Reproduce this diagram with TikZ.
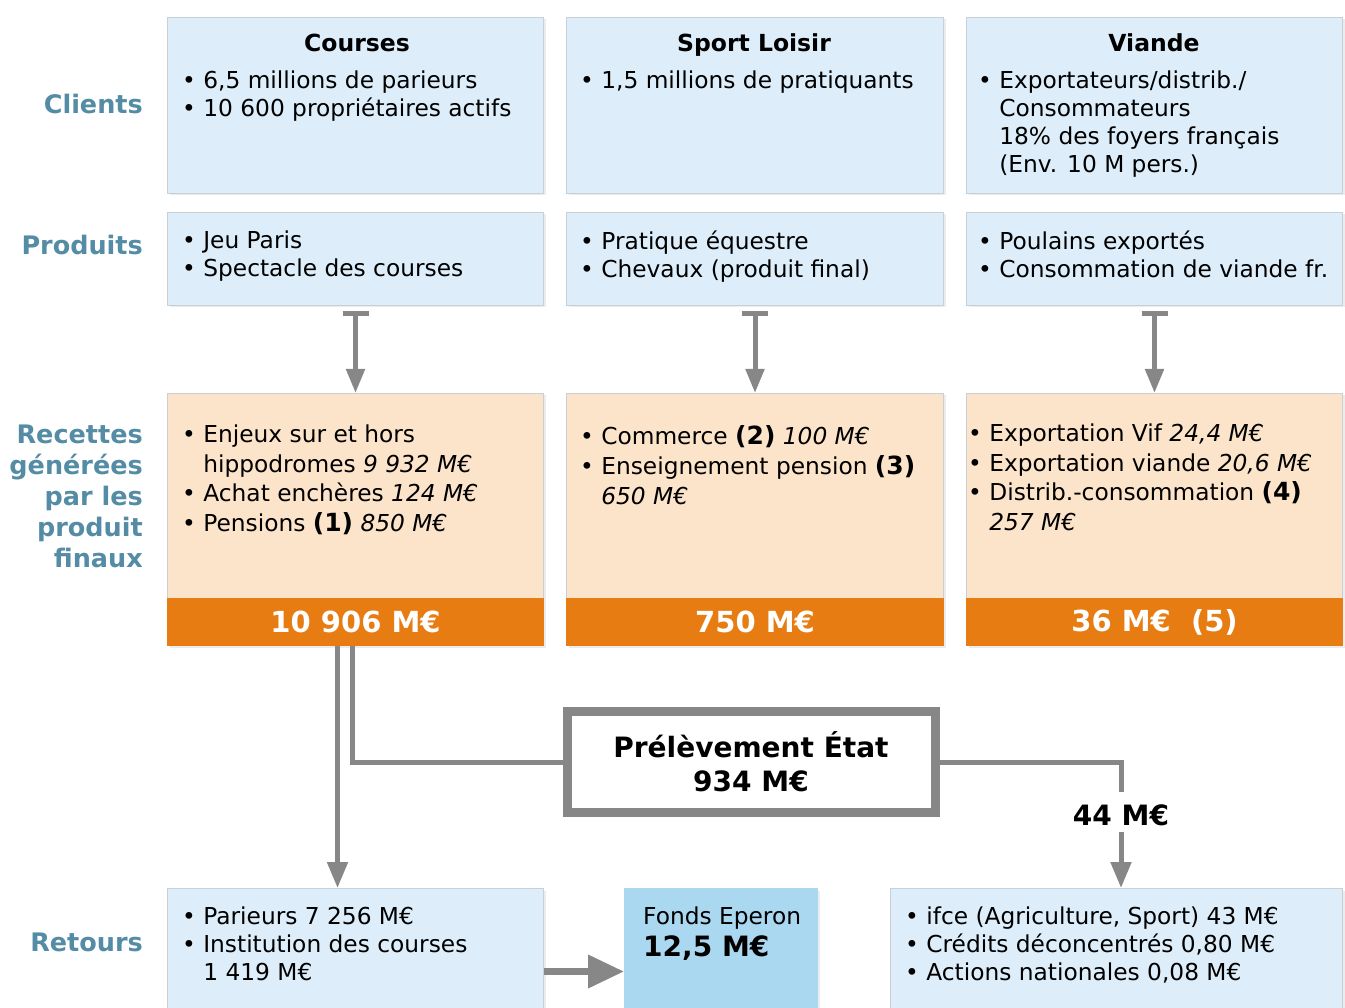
\documentclass[tikz,border=0pt]{standalone}
\usepackage{fontspec}
\setmainfont{DejaVu Sans}
\usetikzlibrary{arrows.meta, positioning, shadows}
\definecolor{boxblue}{RGB}{221,238,250}
\definecolor{fondsblue}{RGB}{170,216,240}
\definecolor{peach}{RGB}{252,228,203}
\definecolor{barorange}{RGB}{231,125,18}
\definecolor{labelblue}{RGB}{84,140,165}
\definecolor{linegray}{RGB}{135,135,135}
\definecolor{edgegray}{RGB}{200,208,214}
\newcommand{\bul}{\textbullet\ }
\newcommand{\ind}{\phantom{\textbullet\ }}
\newcommand{\bigbf}[1]{{\bfseries\fontsize{25}{28}\selectfont #1}}

\begin{document}
\begin{tikzpicture}[x=1pt, y=-1pt,
    font=\fontsize{23.3}{28}\selectfont,
    box/.style={draw=edgegray, line width=1pt, anchor=north west, inner sep=0pt,
        drop shadow={opacity=0.15, shadow xshift=2pt, shadow yshift=-2pt}},
    bluebox/.style={box, fill=boxblue},
    peachbox/.style={box, fill=peach},
    orangebar/.style={box, fill=barorange, draw=barorange},
    txt/.style={anchor=north west, align=left, inner sep=0pt},
    title/.style={inner sep=0pt, font=\bfseries\fontsize{23.5}{28}\selectfont},
    bartext/.style={inner sep=0pt, text=white, font=\bfseries\fontsize{29}{30}\selectfont},
    rowlabel/.style={inner sep=0pt, text=labelblue, font=\bfseries\fontsize{25.5}{31}\selectfont},
    flow/.style={draw=linegray, line width=5pt},
    tip/.style={-{Triangle[length=26pt, width=20pt]}}]
    \useasboundingbox (0,0) rectangle (1345,1008);
    % Row labels
    \node[rowlabel, anchor=east] (lcli) at (143,104) {Clients};
    \node[rowlabel, anchor=east] (lpro) at (143,245) {Produits};
    \node[rowlabel, anchor=north east, align=right] (lrec) at (143,425) {Recettes\\générées\\par les\\produit\\finaux};
    \node[rowlabel, anchor=east] (lret) at (143,942) {Retours};
    % Clients
    \node[bluebox, minimum width=376pt, minimum height=176pt] (cli1) at (167,17) {};
    \node[bluebox, minimum width=377pt, minimum height=176pt] (cli2) at (566,17) {};
    \node[bluebox, minimum width=376pt, minimum height=176pt] (cli3) at (966,17) {};
    \node[title, anchor=base] (tcli1) at (357,52) {Courses};
    \node[title, anchor=base] (tcli2) at (754,52) {Sport Loisir};
    \node[title, anchor=base] (tcli3) at (1154,52) {Viande};
    \node[txt] (xcli1) at (182,71) {\bul 6,5 millions de parieurs\\ \bul 10 600 propriétaires actifs};
    \node[txt] (xcli2) at (580,71) {\bul 1,5 millions de pratiquants};
    \node[txt] (xcli3) at (978,71) {\bul Exportateurs/distrib./\\ \ind Consommateurs\\ \ind 18\% des foyers français\\ \ind (Env. 10 M pers.)};
    % Produits
    \node[bluebox, minimum width=376pt, minimum height=93pt] (pro1) at (167,212) {};
    \node[bluebox, minimum width=377pt, minimum height=93pt] (pro2) at (566,212) {};
    \node[bluebox, minimum width=376pt, minimum height=93pt] (pro3) at (966,212) {};
    \node[txt] (xpro1) at (182,231) {\bul Jeu Paris\\ \bul Spectacle des courses};
    \node[txt] (xpro2) at (580,231) {\bul Pratique équestre\\ \bul Chevaux (produit final)};
    \node[txt] (xpro3) at (978,231) {\bul Poulains exportés\\ \bul Consommation de viande fr.};
    % Recettes
    \node[peachbox, minimum width=376pt, minimum height=205pt] (rec1) at (167,393) {};
    \node[peachbox, minimum width=377pt, minimum height=205pt] (rec2) at (566,393) {};
    \node[peachbox, minimum width=376pt, minimum height=205pt] (rec3) at (966,393) {};
    \node[txt, font=\fontsize{23.3}{29.5}\selectfont] (xrec1) at (182,425) {\bul Enjeux sur et hors\\ \ind hippodromes \textit{9 932 M€}\\ \bul Achat enchères \textit{124 M€}\\ \bul Pensions \bigbf{(1)} \textit{850 M€}};
    \node[txt, font=\fontsize{23.3}{30}\selectfont] (xrec2) at (580,425) {\bul Commerce \bigbf{(2)} \textit{100 M€}\\ \bul Enseignement pension \bigbf{(3)}\\ \ind\textit{650 M€}};
    \node[txt, font=\fontsize{23.3}{29.5}\selectfont] (xrec3) at (968,424) {\bul Exportation Vif \textit{24,4 M€}\\ \bul Exportation viande \textit{20,6 M€}\\ \bul Distrib.-consommation \bigbf{(4)}\\ \ind\textit{257 M€}};
    \node[orangebar, minimum width=376pt, minimum height=47pt] (bar1) at (167,598) {};
    \node[orangebar, minimum width=377pt, minimum height=47pt] (bar2) at (566,598) {};
    \node[orangebar, minimum width=376pt, minimum height=47pt] (bar3) at (966,598) {};
    \node[bartext] (vbar1) at (bar1.center) {10 906 M€};
    \node[bartext] (vbar2) at (bar2.center) {750 M€};
    \node[bartext] (vbar3) at (bar3.center) {36 M€~~(5)};
    % Produits -> Recettes
    \foreach \i in {1,2,3}
        \draw[flow, {Bar[width=26pt, line width=5pt]}-{Triangle[length=24pt, width=18pt]}]
            ([yshift=-5pt]pro\i.south) -- (rec\i.north);
    % Prelevement
    \node[draw=linegray, line width=9pt, fill=white, minimum width=368pt, minimum height=101pt,
        align=center, font=\bfseries\fontsize{28}{34}\selectfont] (pre) at (751,762) {Prélèvement État\\934 M€};
    \node[title, font=\bfseries\fontsize{28}{30}\selectfont] (m44) at (1121,815) {44 M€};
    % Retours
    \node[bluebox, minimum width=376pt, minimum height=122pt] (ret1) at (167,888) {};
    \node[box, fill=fondsblue, draw=fondsblue, minimum width=193pt, minimum height=122pt] (fonds) at (624,888) {};
    \node[bluebox, minimum width=452pt, minimum height=122pt] (ret3) at (890,888) {};
    \node[txt] (xret1) at (182,907) {\bul Parieurs 7 256 M€\\ \bul Institution des courses\\ \ind 1 419 M€};
    \node[txt, font=\fontsize{23.3}{32}\selectfont] (xfonds) at (643,907) {Fonds Eperon\\ {\bfseries\fontsize{28}{32}\selectfont 12,5 M€}};
    \node[txt] (xret3) at (905,907) {\bul ifce (Agriculture, Sport) 43 M€\\ \bul Crédits déconcentrés 0,80 M€\\ \bul Actions nationales 0,08 M€};
    % Flows
    \draw[flow, tip] ([xshift=-18pt]bar1.south) -- ([xshift=-18pt]bar1.south |- ret1.north);
    \draw[flow] ([xshift=-3pt]bar1.south) |- (pre.west);
    \draw[flow] (pre.east) -| ([yshift=12pt]m44.north);
    \draw[flow, tip] ([yshift=-6pt]m44.south) -- (m44.south |- ret3.north);
    \draw[flow, line width=7pt, -{Triangle[length=36pt, width=32pt]}]
        ([yshift=-22pt]ret1.east) -- ([yshift=-22pt]ret1.east -| fonds.west);
\end{tikzpicture}
\end{document}
